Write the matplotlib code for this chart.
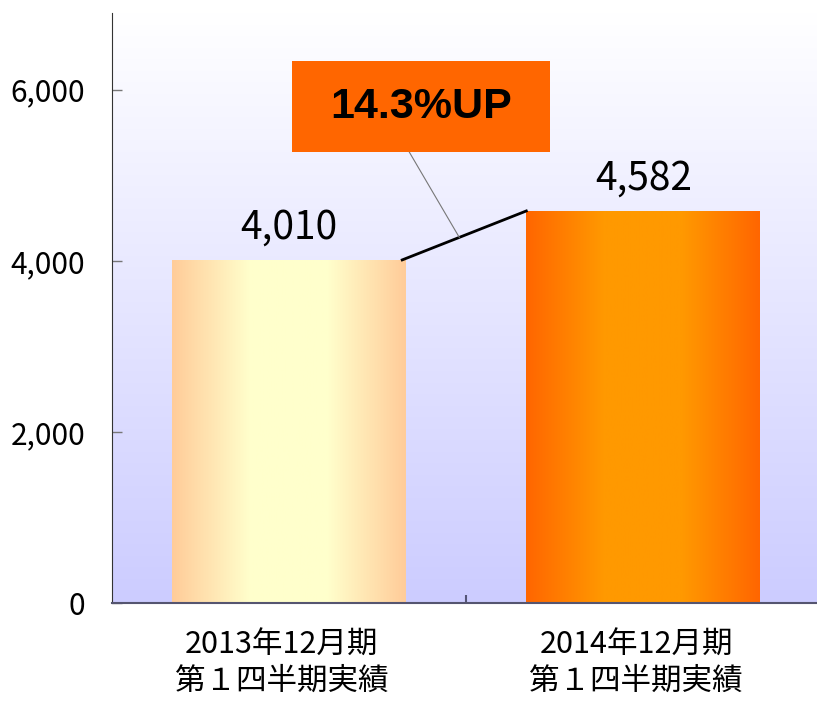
import matplotlib.pyplot as plt
import numpy as np
from matplotlib.colors import LinearSegmentedColormap

plt.rcParams['font.family'] = ['Noto Sans CJK JP', 'DejaVu Sans']

categories = ['2013年12月期\n第１四半期実績', '2014年12月期\n第１四半期実績']
values = [4010, 4582]
value_labels = ['4,010', '4,582']
yticks = [0, 2000, 4000, 6000]
growth_label = '14.3%UP'

# edge colour, centre colour of each bar
bar_colors = [('#FFCC99', '#FFFFCC'), ('#FF6600', '#FF9900')]

fig = plt.figure(figsize=(8.17, 7.02), dpi=100)
ax = fig.add_axes([0.1365, 0.141, 0.8635, 0.841])

x = np.arange(len(categories))
width = 0.66
bars = ax.bar(x, values, width=width, color='none', zorder=2)

# bar gradients, clipped to each bar
grad = np.linspace(0, 1, 256).reshape(1, -1)
for bar, (edge, centre) in zip(bars, bar_colors):
    cmap = LinearSegmentedColormap.from_list('g', [edge, centre, centre, edge])
    x0 = bar.get_x()
    im = ax.imshow(grad, cmap=cmap, aspect='auto', zorder=2,
                   extent=(x0, x0 + bar.get_width(), 0, bar.get_height()))
    im.set_clip_path(bar)

# background gradient: white at top, pale blue at bottom
bg = LinearSegmentedColormap.from_list('bg', ['#CCCCFF', '#FFFFFF'])
ax.imshow(np.linspace(0, 1, 256).reshape(-1, 1), cmap=bg, aspect='auto',
          origin='lower', extent=(0, 1, 0, 1), transform=ax.transAxes, zorder=0)

ax.set_xlim(-0.5, 1.49)
ax.set_ylim(0, 6900)

for xi, v, lab in zip(x, values, value_labels):
    ax.text(xi, v + 245, lab, ha='center', va='baseline', fontsize=28, zorder=3)

# line joining bar tops
x1 = x[0] + width / 2 - 0.01
x2 = x[1] - width / 2
ax.plot([x1, x2], values, color='black', lw=2, zorder=3)

# callout box
t = 0.46
px = x1 + t * (x2 - x1)
py = values[0] + t * (values[1] - values[0])
ax.plot([0.34, px], [5270, py], color='#777777', lw=0.8, zorder=3)
ax.add_patch(plt.Rectangle((0.2558, 0.7638), 0.3657, 0.1541, transform=ax.transAxes,
                           facecolor='#FF6600', edgecolor='none', zorder=4))
ax.text(0.4387, 0.840, growth_label, transform=ax.transAxes, ha='center', va='center',
        fontsize=31, fontweight='bold', fontfamily=['Liberation Sans'], zorder=5)

ax.set_yticks(yticks)
ax.set_yticklabels([f'{v:,}' for v in yticks])
ax.set_xticks([0.5])
ax.set_xticklabels([''])
ax.tick_params(axis='y', direction='in', length=7, width=1, color='#777777',
               labelsize=21.5, pad=19)
ax.tick_params(axis='x', direction='in', length=6, width=1.5, color='#555577')

for xi, cat in zip(x, categories):
    ax.text(xi - 0.02, -0.045, cat, transform=ax.get_xaxis_transform(), ha='center',
            va='top', fontsize=22, linespacing=1.2)

ax.spines['top'].set_visible(False)
ax.spines['right'].set_visible(False)
ax.spines['left'].set_color('#333333')
ax.spines['bottom'].set_color('#555570')
ax.spines['bottom'].set_linewidth(1.5)

fig.savefig('out.png', dpi=100)
